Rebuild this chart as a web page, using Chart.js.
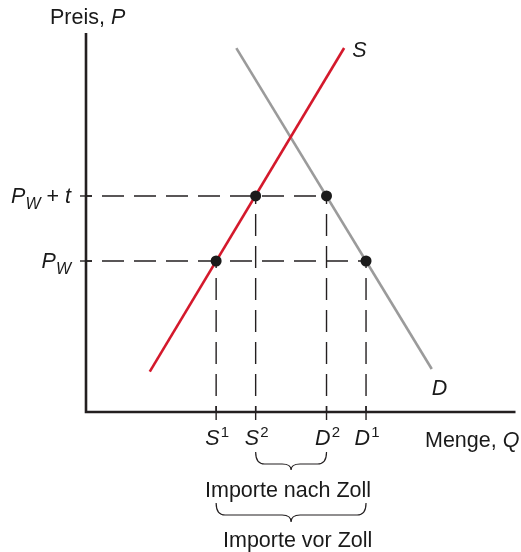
<!DOCTYPE html>
<html><head><meta charset="utf-8">
<script src="https://cdn.jsdelivr.net/npm/chart.js@4"></script>
<style>html,body{margin:0;padding:0;background:#fff}canvas{display:block}</style>
</head><body>
<canvas id="c" width="521" height="552"></canvas>
<script>
// Quantities marked on the Q axis: S1, S2, D2, D1
const qTicks = [30.3, 39.5, 56.0, 65.2];
const qTickLabels = [['S', '1'], ['S', '2'], ['D', '2'], ['D', '1']];
// Price levels marked on the P axis: P_W, P_W + t
const pTicks = [40.05, 57.3];
const pTickLabels = [['P', 'W', ''], ['P', 'W', ' + t']];
// Supply (S) and demand (D) curve end points
const supplyQ = [14.85, 60.1];
const supplyP = [10.7, 96.55];
const demandQ = [35.0, 80.5];
const demandP = [96.5, 11.4];
// Market points at world price and at world price plus tariff
const pointQ = [30.3, 39.5, 56.0, 65.2];
const pointP = [40.05, 57.3, 57.3, 40.05];

const INK = '#231f20';
const FONT = '"Liberation Sans", Arial, sans-serif';
const FS = 21.5;

const toXY = (xs, ys) => xs.map((x, i) => ({x, y: ys[i]}));

// dashed guides: from the axes out to each market point
const guides = [];
pTicks.forEach(p => {
  const qMax = Math.max(...pointQ.filter((q, i) => pointP[i] === p));
  guides.push([{x: 0, y: p}, {x: qMax, y: p}]);
});
pointQ.forEach((q, i) => guides.push([{x: q, y: 0}, {x: q, y: pointP[i]}]));

const datasets = guides.map(g => ({
  data: g, showLine: true, borderColor: INK, borderWidth: 1.4,
  borderDash: [22, 10], borderDashOffset: 16, pointRadius: 0, order: 3
}));
datasets.push({
  data: toXY(supplyQ, supplyP), showLine: true, borderColor: '#d4192c',
  borderWidth: 2.6, pointRadius: 0, order: 2
});
datasets.push({
  data: toXY(demandQ, demandP), showLine: true, borderColor: '#9b9b9b',
  borderWidth: 2.6, pointRadius: 0, order: 2
});
datasets.push({
  data: toXY(pointQ, pointP), showLine: false, pointRadius: 5.5,
  pointBackgroundColor: '#1b1b1b', pointBorderWidth: 0, order: 1
});

function runs(ctx, parts, x, y, align) {
  // parts: [text, size, italic, dy]
  let w = 0;
  const widths = parts.map(p => {
    ctx.font = (p[2] ? 'italic ' : '') + p[1] + 'px ' + FONT;
    const m = ctx.measureText(p[0]).width;
    w += m;
    return m;
  });
  let cx = align === 'right' ? x - w : align === 'center' ? x - w / 2 : x;
  parts.forEach((p, i) => {
    ctx.font = (p[2] ? 'italic ' : '') + p[1] + 'px ' + FONT;
    ctx.fillText(p[0], cx, y + (p[3] || 0));
    cx += widths[i];
  });
}

function brace(ctx, x1, x2, y0, h, tip) {
  const xm = (x1 + x2) / 2, r = 9, yb = y0 + h;
  ctx.beginPath();
  ctx.moveTo(x1, y0);
  ctx.quadraticCurveTo(x1, yb, x1 + r, yb);
  ctx.lineTo(xm - r, yb);
  ctx.quadraticCurveTo(xm, yb, xm, yb + tip);
  ctx.quadraticCurveTo(xm, yb, xm + r, yb);
  ctx.lineTo(x2 - r, yb);
  ctx.quadraticCurveTo(x2, yb, x2, y0);
  ctx.stroke();
}

const decor = {
  id: 'decor',
  beforeDatasetsDraw(chart) {
    const {ctx, chartArea: a, scales: {x, y}} = chart;
    const x0 = x.getPixelForValue(0), y0 = y.getPixelForValue(0);
    ctx.save();
    ctx.strokeStyle = INK;
    ctx.lineWidth = 2.6;
    ctx.beginPath();
    ctx.moveTo(x0, a.top - 2);
    ctx.lineTo(x0, y0);
    ctx.lineTo(a.right, y0);
    ctx.stroke();
    ctx.lineWidth = 1.4;
    qTicks.forEach(q => {
      const px = x.getPixelForValue(q);
      ctx.beginPath(); ctx.moveTo(px, y0 - 6); ctx.lineTo(px, y0 + 8); ctx.stroke();
    });
    pTicks.forEach(p => {
      const py = y.getPixelForValue(p);
      ctx.beginPath(); ctx.moveTo(x0 - 6, py); ctx.lineTo(x0 + 6, py); ctx.stroke();
    });
    ctx.restore();
  },
  afterDraw(chart) {
    const {ctx, scales: {x, y}} = chart;
    const y0 = y.getPixelForValue(0);
    ctx.save();
    ctx.fillStyle = '#1a1a1a';
    ctx.textBaseline = 'alphabetic';
    // axis titles
    runs(ctx, [['Preis, ', FS, false], ['P', FS, true]], 50, 24, 'left');
    runs(ctx, [['Menge, ', FS, false], ['Q', FS, true]], 425, y0 + 35, 'left');
    // curve names
    const sEnd = x.getPixelForValue(supplyQ[1]), sTop = y.getPixelForValue(supplyP[1]);
    runs(ctx, [['S', FS, true]], sEnd + 8, sTop + 9, 'left');
    const dEnd = x.getPixelForValue(demandQ[1]), dBot = y.getPixelForValue(demandP[1]);
    runs(ctx, [['D', FS, true]], dEnd, dBot + 26, 'left');
    // quantity tick labels
    qTicks.forEach((q, i) => {
      const px = x.getPixelForValue(q);
      runs(ctx, [[qTickLabels[i][0], FS, true], [' ', 4, false], [qTickLabels[i][1], 15, false, -8]], px + 1, y0 + 33, 'center');
    });
    // price tick labels
    pTicks.forEach((p, i) => {
      const py = y.getPixelForValue(p);
      const L = pTickLabels[i];
      const parts = [[L[0], FS, true], [L[1], 16, true, 6]];
      if (L[2]) { parts.push([' + ', FS, false]); parts.push(['t', FS, true]); }
      runs(ctx, parts, 71, py + 7, 'right');
    });
    // import braces
    ctx.strokeStyle = INK;
    ctx.lineWidth = 1.2;
    const px = qTicks.map(q => x.getPixelForValue(q));
    brace(ctx, px[1], px[2], y0 + 40, 12, 6);
    brace(ctx, px[0], px[3], y0 + 91, 12, 7);
    runs(ctx, [['Importe nach Zoll', FS, false]], 205, y0 + 85, 'left');
    runs(ctx, [['Importe vor Zoll', FS, false]], 223, y0 + 135, 'left');
    ctx.restore();
  }
};

new Chart(document.getElementById('c'), {
  type: 'scatter',
  data: {datasets},
  options: {
    responsive: false,
    animation: false,
    events: [],
    layout: {padding: {left: 86, right: 4, top: 35, bottom: 140}},
    plugins: {legend: {display: false}, tooltip: {enabled: false}},
    scales: {
      x: {type: 'linear', min: 0, max: 100, display: false},
      y: {type: 'linear', min: 0, max: 100, display: false}
    }
  },
  plugins: [decor]
});
</script>
</body></html>
